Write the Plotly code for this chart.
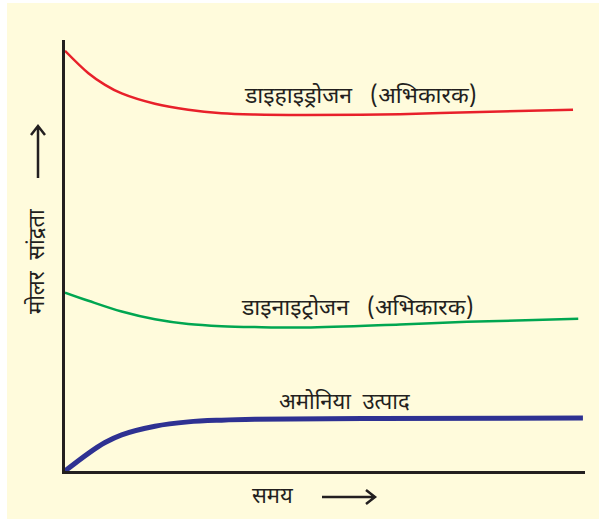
import plotly.graph_objects as go

# Time (arbitrary units) and molar concentration (arbitrary units)
h2_t = [0, 0.45, 0.77, 1.09, 1.73, 2.37, 3.01, 3.65, 4.62, 6.44, 7.98, 9.77]
h2_c = [9.75, 9.23, 8.96, 8.76, 8.52, 8.38, 8.30, 8.27, 8.26, 8.28, 8.33, 8.38]

n2_t = [0, 0.45, 1.09, 1.73, 2.37, 3.01, 3.65, 4.62, 6.44, 7.73, 9.87]
n2_c = [4.14, 3.95, 3.70, 3.52, 3.41, 3.36, 3.34, 3.33, 3.40, 3.46, 3.53]

nh3_t = [0, 0.45, 0.77, 1.09, 1.73, 2.37, 3.01, 3.65, 6.0, 9.96]
nh3_c = [0, 0.41, 0.66, 0.84, 1.04, 1.14, 1.18, 1.20, 1.22, 1.23]

label_h2 = "डाइहाइड्रोजन\u00a0\u00a0\u00a0(अभिकारक)"
label_n2 = "डाइनाइट्रोजन\u00a0\u00a0\u00a0(अभिकारक)"
label_nh3 = "अमोनिया\u00a0\u00a0उत्पाद"
x_title = "समय"
y_title = "मोलर\u00a0\u00a0सांद्रता"

FONT = "Noto Sans Devanagari, Lohit Devanagari, Mangal, Noto Sans, sans-serif"
INK = "#231f20"

fig = go.Figure()
fig.add_trace(go.Scatter(x=h2_t, y=h2_c, mode="lines", line=dict(color="#e8202a", width=2.5, shape="spline"), cliponaxis=False))
fig.add_trace(go.Scatter(x=n2_t, y=n2_c, mode="lines", line=dict(color="#00a651", width=2.5, shape="spline"), cliponaxis=False))
fig.add_trace(go.Scatter(x=nh3_t, y=nh3_c, mode="lines", line=dict(color="#2e3192", width=5, shape="spline"), cliponaxis=False))

W, H = 599, 519
L, R, T, B = 65, 14, 40, 48
pw, ph = W - L - R, H - T - B

def px(x):
    return (x - L) / pw

def py(y):
    return (H - B - y) / ph

# cream background
fig.add_shape(type="rect", xref="paper", yref="paper", x0=px(7), x1=px(600), y0=py(520), y1=py(3),
              fillcolor="#fffbdc", line=dict(width=0), layer="below")

# arrows
fig.add_shape(type="path", xref="paper", yref="paper",
              path=f"M {px(322)} {py(497)} L {px(375)} {py(497)} M {px(366)} {py(490)} L {px(375)} {py(497)} L {px(366)} {py(504)}",
              line=dict(color=INK, width=2.5))
fig.add_shape(type="path", xref="paper", yref="paper",
              path=f"M {px(38)} {py(178)} L {px(38)} {py(126)} M {px(31)} {py(135)} L {px(38)} {py(126)} L {px(45)} {py(135)}",
              line=dict(color=INK, width=2.5))

tf = dict(family=FONT, size=22, color=INK)
tf_big = dict(family=FONT, size=23, color=INK)
common = dict(xref="paper", yref="paper", showarrow=False, xanchor="center", yanchor="middle")
fig.add_annotation(text=label_h2, x=px(360), y=py(97), font=tf_big, **common)
fig.add_annotation(text=label_n2, x=px(357), y=py(309), font=tf_big, **common)
fig.add_annotation(text=label_nh3, x=px(344), y=py(403), font=tf, **common)
fig.add_annotation(text=x_title, x=px(273), y=py(497), font=tf, **common)
fig.add_annotation(text=y_title, x=px(38), y=py(262), textangle=-90, font=tf, **common)

fig.update_layout(
    width=W, height=H, margin=dict(l=L, r=R, t=T, b=B),
    paper_bgcolor="white", plot_bgcolor="rgba(0,0,0,0)",
    showlegend=False,
    xaxis=dict(range=[0, 10], showline=True, linecolor=INK, linewidth=3, showgrid=False, zeroline=False,
               showticklabels=False, ticks=""),
    yaxis=dict(range=[0, 10], showline=True, linecolor=INK, linewidth=3, showgrid=False, zeroline=False,
               showticklabels=False, ticks=""),
)

fig.write_html("out.html", config={"displayModeBar": False},
               post_script="document.body.style.margin='0';document.body.style.overflow='hidden';")
